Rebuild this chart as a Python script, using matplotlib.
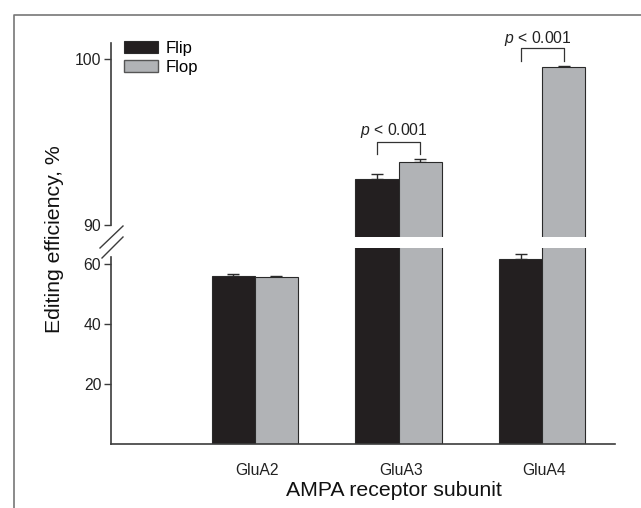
import matplotlib
matplotlib.use("Agg")
import matplotlib.pyplot as plt
from matplotlib.lines import Line2D
from matplotlib.patches import Patch
import numpy as np

plt.rcParams['font.family'] = ['Liberation Sans', 'DejaVu Sans']
plt.rcParams['mathtext.fontset'] = 'custom'
plt.rcParams['mathtext.it'] = 'Liberation Sans:italic'
plt.rcParams['mathtext.rm'] = 'Liberation Sans'

categories = ["GluA2", "GluA3", "GluA4"]
flip_vals = [55.9, 92.8, 61.7]
flip_err = [0.8, 0.3, 1.5]
flop_vals = [55.6, 93.8, 99.5]
flop_err = [0.4, 0.2, 0.08]
series_labels = ["Flip", "Flop"]
upper_ticks = [90, 100]
lower_ticks = [20, 40, 60]
pvals = ["< 0.001", "< 0.001"]

W, H = 641, 508
fig = plt.figure(figsize=(W / 100, H / 100), dpi=100)

def fx(px):
    return px / W

def fy(py):
    return 1 - py / H

ax_left, ax_right = 111, 615
ax_up = fig.add_axes([fx(ax_left), fy(237), fx(ax_right - ax_left), (237 - 43) / H])
ax_lo = fig.add_axes([fx(ax_left), fy(444), fx(ax_right - ax_left), (444 - 248) / H])

flip_c = "#231f20"
flop_c = "#b1b3b6"
edge_c = "#2a2a2a"
spine_c = "#3c3c3c"
txt_c = "#222222"

x = np.arange(1, len(categories) + 1)
bw = 0.30
for ax in (ax_up, ax_lo):
    ax.bar(x - bw / 2, flip_vals, width=bw, color=flip_c, edgecolor=edge_c, linewidth=0.8, zorder=2)
    ax.bar(x + bw / 2, flop_vals, width=bw, color=flop_c, edgecolor=edge_c, linewidth=0.8, zorder=2)
    ax.errorbar(x - bw / 2, flip_vals, yerr=[np.zeros(3), flip_err], fmt='none', ecolor=edge_c,
                elinewidth=1, capsize=4.3, capthick=1, zorder=1)
    ax.errorbar(x + bw / 2, flop_vals, yerr=[np.zeros(3), flop_err], fmt='none', ecolor=edge_c,
                elinewidth=1, capsize=4.3, capthick=1, zorder=1)
    ax.set_xlim(0.0, 3.506)
    for s in ("top", "right"):
        ax.spines[s].set_visible(False)
    ax.spines["left"].set_color(spine_c)
    ax.spines["left"].set_linewidth(1.2)
    ax.tick_params(axis='y', direction='out', length=5, width=1, color=spine_c,
                   labelsize=11.3, labelcolor=txt_c, pad=2)

ax_up.set_ylim(89.277, 100.964)
ax_lo.set_ylim(0, 65.33)
ax_up.set_yticks(upper_ticks)
ax_lo.set_yticks(lower_ticks)
ax_up.spines["left"].set_bounds(90, 100.964)
ax_lo.spines["left"].set_bounds(0, 62.3)
ax_up.spines["bottom"].set_visible(False)
ax_up.set_xticks([])
ax_lo.spines["bottom"].set_color(spine_c)
ax_lo.spines["bottom"].set_linewidth(1.2)
ax_lo.set_xticks(x + 0.015)
ax_lo.set_xticklabels(categories)
ax_lo.tick_params(axis='x', length=0, labelsize=11.3, labelcolor=txt_c, pad=14)
ax_up.patch.set_visible(False)
ax_lo.patch.set_visible(False)

# significance brackets
br_c = "#333333"
brackets = [(2, 94.26, 95.0, 95.42), (3, 99.9, 100.64, 100.98)]
for (cx, ylo, yhi, ytxt), pv in zip(brackets, pvals):
    ax_up.add_line(Line2D([cx - bw / 2, cx - bw / 2, cx + bw / 2, cx + bw / 2],
                          [ylo, yhi, yhi, ylo], color=br_c, lw=0.9, clip_on=False))
    ax_up.text(cx - 0.03, ytxt, r"$\it{p}$ " + pv, ha='center', va='baseline',
               fontsize=11.3, color=txt_c, clip_on=False)

# legend
handles = [Patch(facecolor=flip_c, edgecolor=edge_c, linewidth=0.8),
           Patch(facecolor=flop_c, edgecolor="#555555", linewidth=1.0)]
ax_up.legend(handles, series_labels, loc='upper left', bbox_to_anchor=(fx(124), fy(41)),
             bbox_transform=fig.transFigure, frameon=False, fontsize=12,
             handlelength=2.05, handleheight=0.75, handletextpad=0.45,
             labelspacing=0.25, borderpad=0, borderaxespad=0)

# break marks on the y axis
for (x0, y0, x1, y1) in [(100, 248, 123, 226), (102, 258, 123, 237)]:
    fig.add_artist(Line2D([fx(x0), fx(x1)], [fy(y0), fy(y1)], transform=fig.transFigure,
                          color=spine_c, lw=1.0))

# axis labels
fig.text(fx(394), fy(490), "AMPA receptor subunit", ha='center', va='center', fontsize=15.3,
         color="#111111")
fig.text(fx(55), fy(239), "Editing efficiency, %", ha='center', va='center', fontsize=15.3,
         rotation=90, color="#111111")

# figure frame (left and top)
fig.add_artist(Line2D([fx(14), fx(14), fx(641)], [fy(508), fy(15), fy(15)],
                      transform=fig.transFigure, color="#777777", lw=1.2))

fig.savefig("out.png", dpi=100)
